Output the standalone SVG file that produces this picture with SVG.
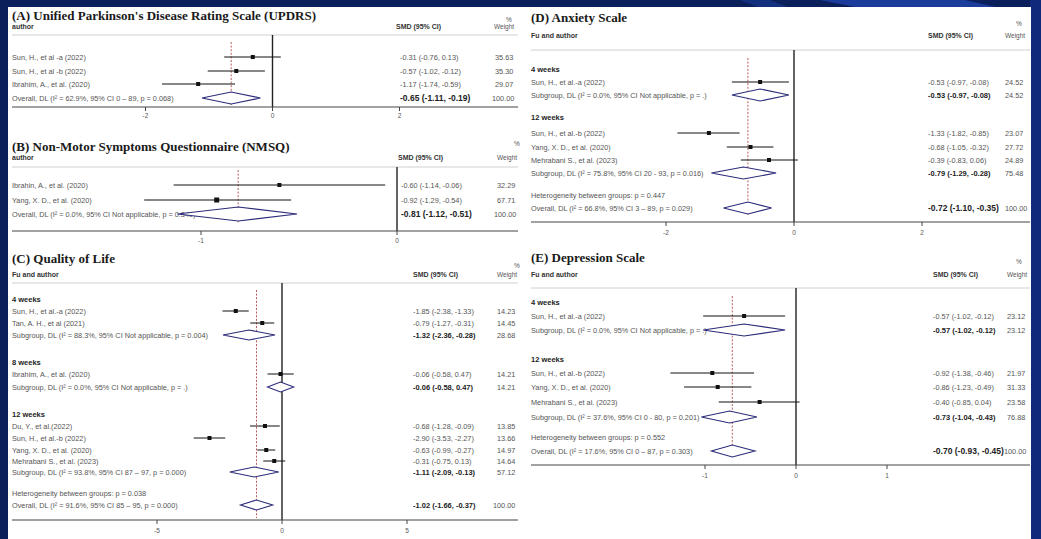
<svg xmlns="http://www.w3.org/2000/svg" width="1041" height="539" viewBox="0 0 1041 539">
<style>
.ttl{font-family:"Liberation Serif",serif;font-weight:bold;font-size:13px;fill:#1a1a1a}
.hd{font-family:"Liberation Sans",Arial,sans-serif;font-size:7px;font-weight:bold;fill:#333}
.hn{font-family:"Liberation Sans",Arial,sans-serif;font-size:6.5px;fill:#555}
.lb{font-family:"Liberation Sans",Arial,sans-serif;font-size:7.3px;fill:#555}
.wk{font-family:"Liberation Sans",Arial,sans-serif;font-size:7.5px;font-weight:bold;fill:#222}
.eb{font-family:"Liberation Sans",Arial,sans-serif;font-size:7.5px;font-weight:bold;fill:#222}
.eB{font-family:"Liberation Sans",Arial,sans-serif;font-size:8.5px;font-weight:bold;fill:#222}
.tk{font-family:"Liberation Sans",Arial,sans-serif;font-size:6.5px;fill:#555;text-anchor:middle}
.hl{stroke:#d0d0d0;stroke-width:1}
.ax{stroke:#444;stroke-width:1}
.z{stroke:#222;stroke-width:1.4}
.rd{stroke:#a33;stroke-width:0.8;stroke-dasharray:2 1.6}
.ci{stroke:#111;stroke-width:1}
.pt{fill:#111}
.dm{fill:#fff;stroke:#2b2b7a;stroke-width:1.1}
</style>
<rect width="1041" height="539" fill="#0b1f5b"/>
<polygon points="820,0 965,0 1000,8 860,8" fill="#1c3c9c"/>
<polygon points="740,0 770,0 790,8 760,8" fill="#13307f"/>
<rect x="1030" y="0" width="11" height="539" fill="#10297a"/>
<rect x="8" y="7" width="1023" height="532" fill="#ffffff"/>

<!-- Panel A -->
<g id="panelA">
<text class="ttl" x="12" y="20">(A) Unified Parkinson's Disease Rating Scale (UPDRS)</text>
<text class="hd" x="12" y="29">author</text>
<text class="hn" x="506" y="22">%</text>
<text class="hd" x="396" y="29">SMD (95% CI)</text>
<text class="hn" x="494" y="29">Weight</text>
<line class="hl" x1="12" y1="35" x2="518" y2="35"/>
<text class="lb" x="12" y="59.5">Sun, H., et al -a (2022)</text>
<text class="lb" x="12" y="73.5">Sun, H., et al -b (2022)</text>
<text class="lb" x="12" y="86.5">Ibrahim, A., et al. (2020)</text>
<text class="lb" x="12" y="100.5">Overall, DL (I² = 62.9%, 95% CI 0 – 89, p = 0.068)</text>
<text class="lb" x="400" y="59.5">-0.31 (-0.76, 0.13)</text>
<text class="lb" x="400" y="73.5">-0.57 (-1.02, -0.12)</text>
<text class="lb" x="400" y="86.5">-1.17 (-1.74, -0.59)</text>
<text class="eB" x="400" y="101">-0.65 (-1.11, -0.19)</text>
<text class="lb" x="495" y="59.5">35.63</text>
<text class="lb" x="495" y="73.5">35.30</text>
<text class="lb" x="495" y="86.5">29.07</text>
<text class="lb" x="492" y="100.5">100.00</text>
<g class="plot">
<line class="z" x1="272.5" y1="35" x2="272.5" y2="107"/>
<line class="rd" x1="231.2" y1="42" x2="231.2" y2="105"/>
<line class="ci" x1="224.2" y1="57" x2="280.8" y2="57"/><rect class="pt" x="250.8" y="55" width="4" height="4"/>
<line class="ci" x1="207.7" y1="71" x2="264.9" y2="71"/><rect class="pt" x="234.3" y="69" width="4" height="4"/>
<line class="ci" x1="162" y1="84" x2="235" y2="84"/><rect class="pt" x="196.2" y="82" width="4" height="4"/>
<polygon class="dm" points="202,98 231.2,92 260.4,98 231.2,104"/>
<line class="ax" x1="12" y1="107" x2="518" y2="107"/>
<line class="ax" x1="145.5" y1="107" x2="145.5" y2="111"/>
<line class="ax" x1="272.5" y1="107" x2="272.5" y2="111"/>
<line class="ax" x1="399.5" y1="107" x2="399.5" y2="111"/>
</g>
<text class="tk" x="145.5" y="118">-2</text>
<text class="tk" x="272.5" y="118">0</text>
<text class="tk" x="399.5" y="118">2</text>
</g>

<!-- Panel B -->
<g id="panelB">
<text class="ttl" x="12" y="151">(B) Non-Motor Symptoms Questionnaire (NMSQ)</text>
<text class="hd" x="12" y="160">author</text>
<text class="hn" x="514" y="146">%</text>
<text class="hd" x="398" y="160">SMD (95% CI)</text>
<text class="hn" x="497" y="160">Weight</text>
<line class="hl" x1="12" y1="167" x2="518" y2="167"/>
<text class="lb" x="12" y="187.5">Ibrahin, A., et al. (2020)</text>
<text class="lb" x="12" y="202.5">Yang, X. D., et al. (2020)</text>
<text class="lb" x="12" y="216.5">Overall, DL (I² = 0.0%, 95% CI Not applicable, p = 0.349)</text>
<text class="lb" x="401" y="187.5">-0.60 (-1.14, -0.06)</text>
<text class="lb" x="401" y="202.5">-0.92 (-1.29, -0.54)</text>
<text class="eB" x="401" y="217">-0.81 (-1.12, -0.51)</text>
<text class="lb" x="497" y="187.5">32.29</text>
<text class="lb" x="497" y="202.5">67.71</text>
<text class="lb" x="494" y="216.5">100.00</text>
<g class="plot">
<line class="z" x1="397" y1="167" x2="397" y2="231"/>
<line class="rd" x1="238.2" y1="170" x2="238.2" y2="224"/>
<line class="ci" x1="173.6" y1="185" x2="385.2" y2="185"/><rect class="pt" x="277.4" y="183" width="4" height="4"/>
<line class="ci" x1="144.2" y1="200" x2="291.2" y2="200"/><rect class="pt" x="214.2" y="197.5" width="5" height="5"/>
<polygon class="dm" points="177.5,214 238.2,207 297,214 238.2,221"/>
<line class="ax" x1="12" y1="231" x2="518" y2="231"/>
<line class="ax" x1="201" y1="231" x2="201" y2="235"/>
<line class="ax" x1="397" y1="231" x2="397" y2="235"/>
</g>
<text class="tk" x="201" y="243">-1</text>
<text class="tk" x="397" y="243">0</text>
</g>

<!-- Panel C -->
<g id="panelC">
<text class="ttl" x="12" y="263">(C) Quality of Life</text>
<text class="hd" x="12" y="277">Fu and author</text>
<text class="hn" x="514" y="268">%</text>
<text class="hd" x="413" y="277">SMD (95% CI)</text>
<text class="hn" x="497" y="277">Weight</text>
<line class="hl" x1="12" y1="283" x2="518" y2="283"/>
<text class="wk" x="12" y="302">4 weeks</text>
<text class="lb" x="12" y="313.5">Sun, H., et al.-a (2022)</text>
<text class="lb" x="12" y="325.5">Tan, A. H., et al (2021)</text>
<text class="lb" x="12" y="337.5">Subgroup, DL (I² = 88.3%, 95% CI Not applicable, p = 0.004)</text>
<text class="wk" x="12" y="365">8 weeks</text>
<text class="lb" x="12" y="376.5">Ibrahim, A., et al. (2020)</text>
<text class="lb" x="12" y="389.5">Subgroup, DL (I² = 0.0%, 95% CI Not applicable, p = .)</text>
<text class="wk" x="12" y="417">12 weeks</text>
<text class="lb" x="12" y="428.5">Du, Y., et al.(2022)</text>
<text class="lb" x="12" y="440.5">Sun, H., et al.-b (2022)</text>
<text class="lb" x="12" y="452.5">Yang, X. D., et al. (2020)</text>
<text class="lb" x="12" y="463.5">Mehrabani S., et al. (2023)</text>
<text class="lb" x="12" y="474.5">Subgroup, DL (I² = 93.8%, 95% CI 87 – 97, p = 0.000)</text>
<text class="lb" x="12" y="495.5">Heterogeneity between groups: p = 0.038</text>
<text class="lb" x="12" y="507.5">Overall, DL (I² = 91.6%, 95% CI 85 – 95, p = 0.000)</text>
<text class="lb" x="413" y="313.5">-1.85 (-2.38, -1.33)</text>
<text class="lb" x="413" y="325.5">-0.79 (-1.27, -0.31)</text>
<text class="eb" x="413" y="337.6">-1.32 (-2.36, -0.28)</text>
<text class="lb" x="413" y="376.5">-0.06 (-0.58, 0.47)</text>
<text class="eb" x="413" y="389.6">-0.06 (-0.58, 0.47)</text>
<text class="lb" x="413" y="428.5">-0.68 (-1.28, -0.09)</text>
<text class="lb" x="413" y="440.5">-2.90 (-3.53, -2.27)</text>
<text class="lb" x="413" y="452.5">-0.63 (-0.99, -0.27)</text>
<text class="lb" x="413" y="463.5">-0.31 (-0.75, 0.13)</text>
<text class="eb" x="413" y="474.6">-1.11 (-2.09, -0.13)</text>
<text class="eb" x="413" y="507.6">-1.02 (-1.66, -0.37)</text>
<text class="lb" x="497" y="313.5">14.23</text>
<text class="lb" x="497" y="325.5">14.45</text>
<text class="lb" x="497" y="337.5">28.68</text>
<text class="lb" x="497" y="376.5">14.21</text>
<text class="lb" x="497" y="389.5">14.21</text>
<text class="lb" x="497" y="428.5">13.85</text>
<text class="lb" x="497" y="440.5">13.66</text>
<text class="lb" x="497" y="452.5">14.97</text>
<text class="lb" x="497" y="463.5">14.64</text>
<text class="lb" x="497" y="474.5">57.12</text>
<text class="lb" x="493" y="507.5">100.00</text>
<g class="plot">
<line class="z" x1="282" y1="283" x2="282" y2="520"/>
<line class="rd" x1="256.5" y1="290" x2="256.5" y2="518"/>
<line class="ci" x1="222.5" y1="311" x2="248.75" y2="311"/><rect class="pt" x="233.75" y="309" width="4" height="4"/>
<line class="ci" x1="250.25" y1="323" x2="274.25" y2="323"/><rect class="pt" x="260.25" y="321" width="4" height="4"/>
<polygon class="dm" points="223,335 249,330 275,335 249,340"/>
<line class="ci" x1="267.5" y1="374" x2="293.75" y2="374"/><rect class="pt" x="278.5" y="372" width="4" height="4"/>
<polygon class="dm" points="267.5,387 280.5,382 293.75,387 280.5,392"/>
<line class="ci" x1="250" y1="426" x2="279.75" y2="426"/><rect class="pt" x="263" y="424" width="4" height="4"/>
<line class="ci" x1="193.75" y1="438" x2="225.25" y2="438"/><rect class="pt" x="207.5" y="436" width="4" height="4"/>
<line class="ci" x1="257.25" y1="450" x2="275.25" y2="450"/><rect class="pt" x="264.25" y="448" width="4" height="4"/>
<line class="ci" x1="263.25" y1="461" x2="285.25" y2="461"/><rect class="pt" x="272.25" y="459" width="4" height="4"/>
<polygon class="dm" points="229.75,472 254.25,467 278.75,472 254.25,477"/>
<polygon class="dm" points="240.5,505 256.5,500 272.75,505 256.5,510"/>
<line class="ax" x1="12" y1="520" x2="518" y2="520"/>
<line class="ax" x1="157" y1="520" x2="157" y2="524"/>
<line class="ax" x1="282" y1="520" x2="282" y2="524"/>
<line class="ax" x1="407" y1="520" x2="407" y2="524"/>
</g>
<text class="tk" x="157" y="533">-5</text>
<text class="tk" x="282" y="533">0</text>
<text class="tk" x="407" y="533">5</text>
</g>

<!-- Panel D -->
<g id="panelD">
<text class="ttl" x="531" y="22">(D) Anxiety Scale</text>
<text class="hd" x="531" y="38">Fu and author</text>
<text class="hn" x="1016" y="26">%</text>
<text class="hd" x="928" y="38">SMD (95% CI)</text>
<text class="hn" x="1005" y="38">Weight</text>
<line class="hl" x1="531" y1="50" x2="1030" y2="50"/>
<text class="wk" x="531" y="72">4 weeks</text>
<text class="lb" x="531" y="84.5">Sun, H., et al.-a (2022)</text>
<text class="lb" x="531" y="97.5">Subgroup, DL (I² = 0.0%, 95% CI Not applicable, p = .)</text>
<text class="wk" x="531" y="120">12 weeks</text>
<text class="lb" x="531" y="135.5">Sun, H., et al.-b (2022)</text>
<text class="lb" x="531" y="149.5">Yang, X. D., et al. (2020)</text>
<text class="lb" x="531" y="162.5">Mehrabani S., et al. (2023)</text>
<text class="lb" x="531" y="175.5">Subgroup, DL (I² = 75.8%, 95% CI 20 - 93, p = 0.016)</text>
<text class="lb" x="531" y="197.5">Heterogeneity between groups: p = 0.447</text>
<text class="lb" x="531" y="210.5">Overall, DL (I² = 66.8%, 95% CI 3 – 89, p = 0.029)</text>
<text class="lb" x="928" y="84.5">-0.53 (-0.97, -0.08)</text>
<text class="eb" x="928" y="97.6">-0.53 (-0.97, -0.08)</text>
<text class="lb" x="928" y="135.5">-1.33 (-1.82, -0.85)</text>
<text class="lb" x="928" y="149.5">-0.68 (-1.05, -0.32)</text>
<text class="lb" x="928" y="162.5">-0.39 (-0.83, 0.06)</text>
<text class="eb" x="928" y="175.6">-0.79 (-1.29, -0.28)</text>
<text class="eB" x="928" y="211">-0.72 (-1.10, -0.35)</text>
<text class="lb" x="1005" y="84.5">24.52</text>
<text class="lb" x="1005" y="97.5">24.52</text>
<text class="lb" x="1005" y="135.5">23.07</text>
<text class="lb" x="1005" y="149.5">27.72</text>
<text class="lb" x="1005" y="162.5">24.89</text>
<text class="lb" x="1005" y="175.5">75.48</text>
<text class="lb" x="1005" y="210.5">100.00</text>
<g class="plot">
<line class="z" x1="794" y1="50" x2="794" y2="222"/>
<line class="rd" x1="747.9" y1="58" x2="747.9" y2="216"/>
<line class="ci" x1="731.9" y1="82" x2="788.9" y2="82"/><rect class="pt" x="758.1" y="80" width="4" height="4"/>
<polygon class="dm" points="731.9,95 760.1,89 788.9,95 760.1,101"/>
<line class="ci" x1="677.5" y1="133" x2="739.6" y2="133"/><rect class="pt" x="706.9" y="131" width="4" height="4"/>
<line class="ci" x1="726.8" y1="147" x2="773.5" y2="147"/><rect class="pt" x="748.5" y="145" width="4" height="4"/>
<line class="ci" x1="740.9" y1="160" x2="797.8" y2="160"/><rect class="pt" x="767" y="158" width="4" height="4"/>
<polygon class="dm" points="711.4,173 743.4,167 776.1,173 743.4,179"/>
<polygon class="dm" points="723.6,208 747.9,202 771.6,208 747.9,214"/>
<line class="ax" x1="531" y1="222" x2="1030" y2="222"/>
<line class="ax" x1="666" y1="222" x2="666" y2="226"/>
<line class="ax" x1="794" y1="222" x2="794" y2="226"/>
<line class="ax" x1="922" y1="222" x2="922" y2="226"/>
</g>
<text class="tk" x="666" y="235">-2</text>
<text class="tk" x="794" y="235">0</text>
<text class="tk" x="922" y="235">2</text>
</g>

<!-- Panel E -->
<g id="panelE">
<text class="ttl" x="531" y="262">(E) Depression Scale</text>
<text class="hd" x="531" y="277">Fu and author</text>
<text class="hn" x="1016" y="264">%</text>
<text class="hd" x="933" y="277">SMD (95% CI)</text>
<text class="hn" x="1007" y="277">Weight</text>
<line class="hl" x1="531" y1="288" x2="1030" y2="288"/>
<text class="wk" x="531" y="305">4 weeks</text>
<text class="lb" x="531" y="318.5">Sun, H., et al.-a (2022)</text>
<text class="lb" x="531" y="332.5">Subgroup, DL (I² = 0.0%, 95% CI Not applicable, p = .)</text>
<text class="wk" x="531" y="362">12 weeks</text>
<text class="lb" x="531" y="375.5">Sun, H., et al.-b (2022)</text>
<text class="lb" x="531" y="389.5">Yang, X. D., et al. (2020)</text>
<text class="lb" x="531" y="404.5">Mehrabani S., et al. (2023)</text>
<text class="lb" x="531" y="419.5">Subgroup, DL (I² = 37.6%, 95% CI 0 - 80, p = 0.201)</text>
<text class="lb" x="531" y="439.5">Heterogeneity between groups: p = 0.552</text>
<text class="lb" x="531" y="453.5">Overall, DL (I² = 17.6%, 95% CI 0 – 87, p = 0.303)</text>
<text class="lb" x="933" y="318.5">-0.57 (-1.02, -0.12)</text>
<text class="eb" x="933" y="332.6">-0.57 (-1.02, -0.12)</text>
<text class="lb" x="933" y="375.5">-0.92 (-1.38, -0.46)</text>
<text class="lb" x="933" y="389.5">-0.86 (-1.23, -0.49)</text>
<text class="lb" x="933" y="404.5">-0.40 (-0.85, 0.04)</text>
<text class="eb" x="933" y="419.6">-0.73 (-1.04, -0.43)</text>
<text class="eB" x="933" y="454">-0.70 (-0.93, -0.45)</text>
<text class="lb" x="1007" y="318.5">23.12</text>
<text class="lb" x="1007" y="332.5">23.12</text>
<text class="lb" x="1007" y="375.5">21.97</text>
<text class="lb" x="1007" y="389.5">31.33</text>
<text class="lb" x="1007" y="404.5">23.58</text>
<text class="lb" x="1007" y="419.5">76.88</text>
<text class="lb" x="1004" y="453.5">100.00</text>
<g class="plot">
<line class="z" x1="796" y1="288" x2="796" y2="465"/>
<line class="rd" x1="732.3" y1="296" x2="732.3" y2="458"/>
<line class="ci" x1="703.2" y1="316" x2="785.1" y2="316"/><rect class="pt" x="742.1" y="314" width="4" height="4"/>
<polygon class="dm" points="703.2,330 744.1,324 785.1,330 744.1,336"/>
<line class="ci" x1="670.4" y1="373" x2="754.1" y2="373"/><rect class="pt" x="710.3" y="371" width="4" height="4"/>
<line class="ci" x1="684.1" y1="387" x2="751.4" y2="387"/><rect class="pt" x="715.7" y="385" width="4" height="4"/>
<line class="ci" x1="718.7" y1="402" x2="799.6" y2="402"/><rect class="pt" x="757.6" y="400" width="4" height="4"/>
<polygon class="dm" points="701.4,417 729.6,411 756.9,417 729.6,423"/>
<polygon class="dm" points="711.4,451 732.3,445 755,451 732.3,457"/>
<line class="ax" x1="531" y1="465" x2="1030" y2="465"/>
<line class="ax" x1="705" y1="465" x2="705" y2="469"/>
<line class="ax" x1="796" y1="465" x2="796" y2="469"/>
<line class="ax" x1="887" y1="465" x2="887" y2="469"/>
</g>
<text class="tk" x="705" y="478">-1</text>
<text class="tk" x="796" y="478">0</text>
<text class="tk" x="887" y="478">1</text>
</g>
</svg>
